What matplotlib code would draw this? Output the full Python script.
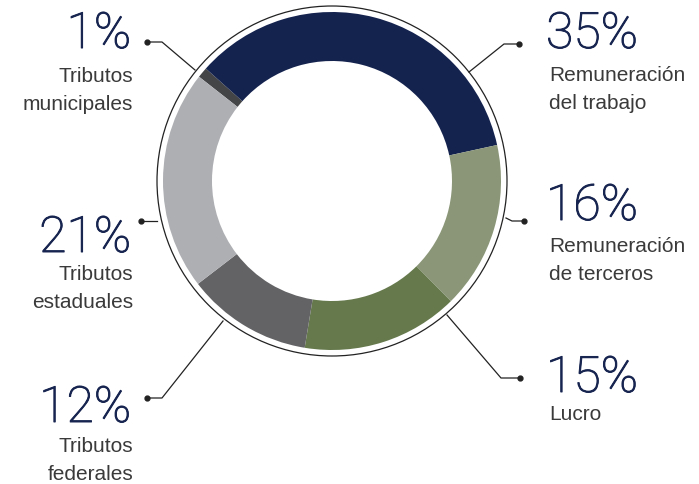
import matplotlib
matplotlib.use("Agg")
import matplotlib.pyplot as plt
import matplotlib.patheffects as pe
import numpy as np

# shares of value added, clockwise from the small slice at the top left
labels = ["Tributos\nmunicipales", "Remuneración\ndel trabajo", "Remuneración\nde terceros",
          "Lucro", "Tributos\nfederales", "Tributos\nestaduales"]
shares = [1, 35, 16, 15, 12, 21]
colors = ["#434547", "#14224e", "#8a9677", "#65794c", "#636366", "#aeafb3"]

W, H = 699, 484
fig = plt.figure(figsize=(W / 100, H / 100), dpi=100)
ax = fig.add_axes([0, 0, 1, 1])

cx, cy = 332, H - 181
ax.pie(shares, colors=colors, startangle=12.3 + 3.6 * (shares[0] + shares[1]),
       counterclock=False, center=(cx, cy), radius=169,
       wedgeprops=dict(width=49, edgecolor="none", linewidth=0))
ax.add_patch(plt.Circle((cx, cy), 175, fill=False, lw=0.9, color="#222222"))

# text blocks: (label index, x, percentage baseline, first label baseline, alignment)
blocks = [
    (0, 131, 48, 82, "right"),
    (5, 131, 252, 280, "right"),
    (4, 131, 422, 452, "right"),
    (1, 546, 48, 81, "left"),
    (2, 546, 220, 252, "left"),
    (3, 546, 392, 420, "left"),
]
# leader lines in pixel coordinates, dot first
leaders = {
    0: [(147, 42), (162, 42), (195, 70)],
    1: [(519, 44), (504, 44), (469, 72)],
    2: [(524, 221), (512, 221), (506, 218)],
    3: [(520, 378), (501, 378), (447, 315)],
    4: [(147, 398), (162, 398), (223, 321)],
    5: [(141, 221), (157, 221)],
}

navy = "#16244f"
for i, x, base, lbase, ha in blocks:
    ax.text(x, H - base, f"{shares[i]}%", ha=ha, va="baseline", fontsize=36,
            color=navy, family=["Roboto", "DejaVu Sans"], fontweight="light",
            path_effects=[pe.withStroke(linewidth=0.7, foreground=navy)])
    xl = x + 2 if ha == "right" else x + 3
    for k, line in enumerate(labels[i].split("\n")):
        ax.text(xl, H - (lbase + 28 * k), line, ha=ha, va="baseline",
                fontsize=15, color="#3a3a3a", family=["Liberation Sans", "DejaVu Sans"])
    pts = np.array(leaders[i], dtype=float)
    ax.plot(pts[:, 0], H - pts[:, 1], color="#222222", lw=0.9)
    ax.plot(pts[0, 0], H - pts[0, 1], "o", color="#222222", ms=3.5)

ax.set_xlim(0, W)
ax.set_ylim(0, H)
ax.set_aspect("equal")
ax.axis("off")
fig.savefig("out.png", dpi=100, facecolor="white")
